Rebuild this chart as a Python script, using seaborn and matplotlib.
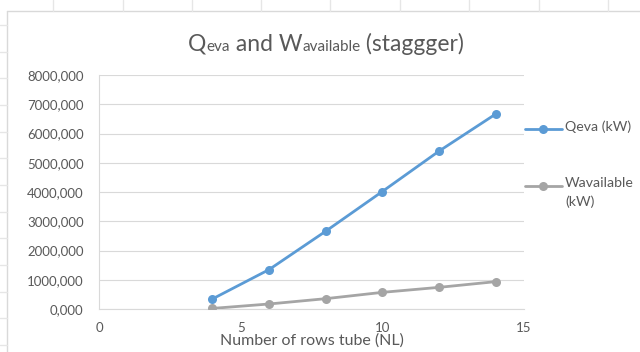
import matplotlib
matplotlib.use("Agg")
import matplotlib.pyplot as plt
import seaborn as sns
import pandas as pd
from matplotlib.lines import Line2D

# Number of tube rows (NL) and the two heat quantities in kW
rows = [4, 6, 8, 10, 12, 14]
q_eva = [342, 1346, 2658, 4017, 5397, 6664]
w_available = [20, 171, 353, 569, 740, 935]
series_names = ["Qeva (kW)", "Wavailable (kW)"]
legend_labels = ["Qeva (kW)", "Wavailable\n(kW)"]
colors = ["#5B9BD5", "#A5A5A5"]
y_ticks = [0, 1000, 2000, 3000, 4000, 5000, 6000, 7000, 8000]
x_ticks = [0, 5, 10, 15]

df = pd.DataFrame({
    "NL": rows + rows,
    "value": q_eva + w_available,
    "series": [series_names[0]] * len(rows) + [series_names[1]] * len(rows),
})

sns.set_theme(style="white")
plt.rcParams["font.family"] = ["Lato", "DejaVu Sans"]
text_color = "#595959"
grid_color = "#D9D9D9"

W, H = 640, 352
fig = plt.figure(figsize=(W / 100, H / 100), dpi=100)

# outer chart frame and sheet cell lines
fig.add_artist(Line2D([7 / W, 7 / W], [0, 1 - 11 / H], color=grid_color, lw=1))
fig.add_artist(Line2D([7 / W, 1], [1 - 11 / H, 1 - 11 / H], color=grid_color, lw=1))
for cx in [53, 123, 192, 261, 330, 400, 469, 539, 608]:
    fig.add_artist(Line2D([cx / W, cx / W], [1 - 11 / H, 1], color="#E6E6E6", lw=1))
for cy in [25, 52, 78, 105, 132, 158, 185, 212, 238, 265, 292, 318, 345]:
    fig.add_artist(Line2D([0, 7 / W], [1 - cy / H, 1 - cy / H], color="#E6E6E6", lw=1))

ax = fig.add_axes([99 / W, 1 - 309 / H, 425 / W, 234 / H])
sns.lineplot(data=df, x="NL", y="value", hue="series", hue_order=series_names,
             palette=colors, marker="o", markersize=6.5, markeredgewidth=0,
             linewidth=2, ax=ax, legend=False, zorder=3)

ax.set_xlim(0, 15)
ax.set_ylim(0, 8000)
ax.set_yticks(y_ticks)
ax.set_yticklabels([f"{v},000" for v in y_ticks])
ax.set_xticks(x_ticks)
ax.set_xticklabels([str(v) for v in x_ticks])
ax.tick_params(axis="y", length=0, pad=11, colors=text_color, labelsize=9.5)
ax.tick_params(axis="x", length=0, pad=9, colors=text_color, labelsize=9.5)
ax.yaxis.grid(True, color=grid_color, lw=0.8)
ax.set_axisbelow(True)
for side in ["top", "right"]:
    ax.spines[side].set_visible(False)
for side in ["left", "bottom"]:
    ax.spines[side].set_color(grid_color)
    ax.spines[side].set_linewidth(0.8)
ax.set_ylabel("")
ax.set_xlabel("Number of rows tube (NL)", color=text_color, fontsize=11.5, labelpad=0)

# title with smaller subscript-style fragments
pieces = [("Q", 16.5), ("eva", 11), (" and W", 16.5), ("available", 11), (" (staggger)", 16.5)]
fig.canvas.draw()
renderer = fig.canvas.get_renderer()
base_y = 1 - 51 / H
texts = []
for s, size in pieces:
    t = fig.text(0, base_y, s, fontsize=size, color=text_color, va="baseline", ha="left")
    texts.append(t)
widths = [t.get_window_extent(renderer).width for t in texts]
x = 326 - sum(widths) / 2
for t, w in zip(texts, widths):
    t.set_x(x / W)
    x += w

# legend entries on the right
legend_y = [129, 186]
for lbl, col, ly in zip(legend_labels, colors, legend_y):
    fig.add_artist(Line2D([525 / W, 562 / W], [1 - ly / H, 1 - ly / H], color=col, lw=2))
    fig.add_artist(Line2D([543 / W], [1 - ly / H], color=col, marker="o",
                          markersize=6.5, markeredgewidth=0))
    fig.text(565 / W, 1 - (ly - 9) / H, lbl, fontsize=10.2, color=text_color,
             va="top", ha="left", linespacing=1.65)

fig.savefig("out.png", dpi=100)
